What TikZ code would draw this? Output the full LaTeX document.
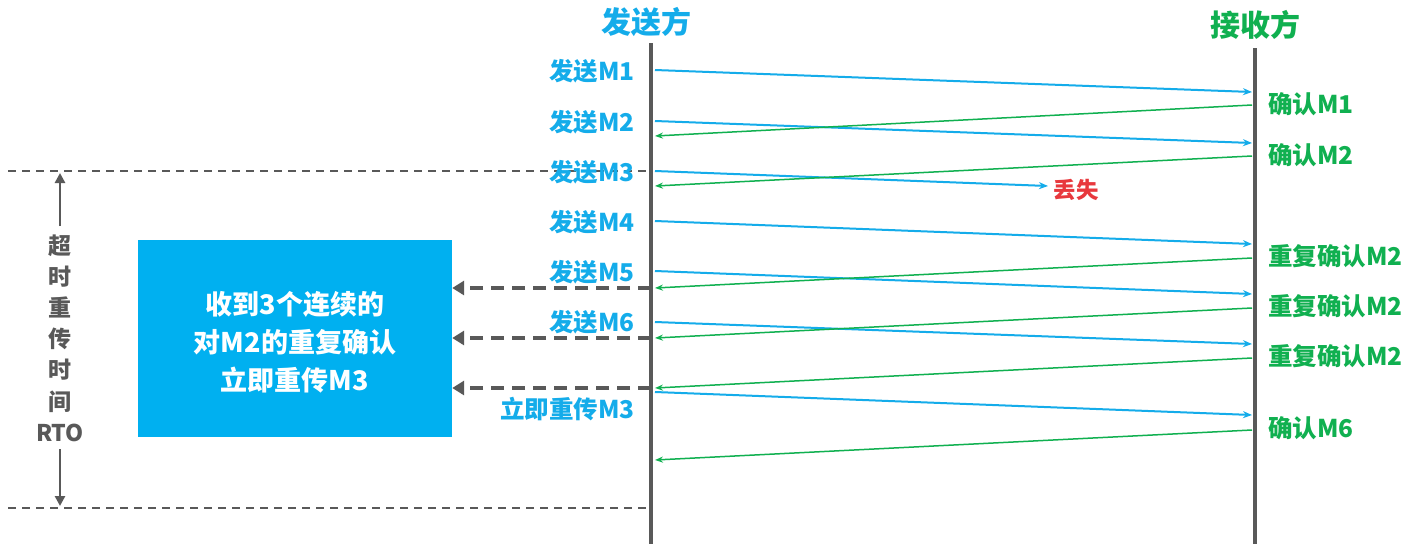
\documentclass[tikz,border=0pt]{standalone}
\usepackage{fontspec}
\setmainfont{Noto Sans CJK SC}
\usetikzlibrary{arrows.meta}
\definecolor{cblue}{RGB}{20,172,234}
\definecolor{cbox}{RGB}{0,176,240}
\definecolor{cgreen}{RGB}{16,176,80}
\definecolor{cred}{RGB}{232,56,61}
\definecolor{cgray}{RGB}{89,89,89}
\tikzset{
  lifeline/.style={draw=cgray,line width=4pt},
  msg/.style={draw=cblue,line width=2pt,-{Stealth[length=9pt,width=7pt]}},
  ack/.style={draw=cgreen,line width=1.5pt,-{Stealth[length=8pt,width=6pt]}},
  slabel/.style={text=cblue,font=\fontsize{24.5}{28}\selectfont\bfseries,anchor=east,inner sep=0pt},
  rlabel/.style={text=cgreen,font=\fontsize{24.5}{28}\selectfont\bfseries,anchor=west,inner sep=0pt},
  title/.style={font=\fontsize{30}{34}\selectfont\bfseries,inner sep=0pt},
  dasharrow/.style={draw=cgray,line width=3.5pt,dash pattern=on 13pt off 8pt,-{Triangle[length=12pt,width=14pt]}},
  rtoline/.style={draw=cgray,line width=1.3pt,dash pattern=on 8pt off 6pt},
  rtoarrow/.style={draw=cgray,line width=2.5pt,-{Triangle[length=10pt,width=10pt]}},
}
\begin{document}
\begin{tikzpicture}[x=1pt,y=-1pt]
\useasboundingbox[fill=white] (0,0) rectangle (1422,544);
% RTO dashed boundaries
\coordinate (rtoTL) at (8,171);
\coordinate (rtoTR) at (648,171);
\coordinate (rtoBL) at (8,508);
\coordinate (rtoBR) at (648,508);
\draw[rtoline] (rtoTL) -- (rtoTR);
\draw[rtoline] (rtoBL) -- (rtoBR);
% lifelines
\coordinate (sTop) at (651,43);
\coordinate (sBot) at (651,544);
\coordinate (rTop) at (1255,48);
\coordinate (rBot) at (1255,544);
\draw[lifeline] (sTop) -- (sBot);
\draw[lifeline] (rTop) -- (rBot);
% titles
\node[title,text=cblue] (tS) at (646,22) {发送方};
\node[title,text=cgreen] (tR) at (1255,25) {接收方};
% sender side coordinates
\foreach \n/\y in {s1/70,s2/121,s3/171,s4/221,s5/271,s6/322,s7/392,
                   a1/136,a2/186,a3/288,a4/338,a5/388,a6/460}
  \coordinate (\n) at (655,\y);
\foreach \n/\y in {r1/92,r2/143,r4/244,r5/294,r6/344,r7/415,
                   b1/105,b2/156,b3/258,b4/308,b5/358,b6/430}
  \coordinate (\n) at (1252,\y);
\coordinate (lost) at (1048,186);
% messages
\draw[msg] (s1) -- (r1);
\draw[msg] (s2) -- (r2);
\draw[msg] (s3) -- (lost);
\draw[msg] (s4) -- (r4);
\draw[msg] (s5) -- (r5);
\draw[msg] (s6) -- (r6);
\draw[msg] (s7) -- (r7);
% acks
\draw[ack] (b1) -- (a1);
\draw[ack] (b2) -- (a2);
\draw[ack] (b3) -- (a3);
\draw[ack] (b4) -- (a4);
\draw[ack] (b5) -- (a5);
\draw[ack] (b6) -- (a6);
% sender labels
\node[slabel] (l1) at (635,71) {发送M1};
\node[slabel] (l2) at (635,122) {发送M2};
\node[slabel] (l3) at (635,172) {发送M3};
\node[slabel] (l4) at (635,222) {发送M4};
\node[slabel] (l5) at (635,272) {发送M5};
\node[slabel] (l6) at (635,322) {发送M6};
\node[slabel] (l7) at (635,409) {立即重传M3};
% receiver labels
\node[rlabel] (k1) at (1268,104) {确认M1};
\node[rlabel] (k2) at (1268,155) {确认M2};
\node[rlabel] (k3) at (1268,256) {重复确认M2};
\node[rlabel] (k4) at (1268,306) {重复确认M2};
\node[rlabel] (k5) at (1268,356) {重复确认M2};
\node[rlabel] (k6) at (1268,428) {确认M6};
% lost
\node[text=cred,font=\fontsize{22.5}{26}\selectfont\bfseries,inner sep=0pt] (lostl) at (1076,190) {丢失};
% blue box
\node[fill=cbox,minimum width=314pt,minimum height=197pt,inner sep=0pt] (box) at (295,338.5) {};
\node[text=white,align=center,inner sep=0pt,font=\fontsize{27}{38}\selectfont\bfseries] (boxtext) at ([yshift=-4pt]box.center)
  {收到3个连续的\\对M2的重复确认\\立即重传M3};
% dashed arrows to box
\coordinate (d1) at (651,288);
\coordinate (d2) at (651,338);
\coordinate (d3) at (651,388);
\draw[dasharrow] (d1) -- (box.east |- d1);
\draw[dasharrow] (d2) -- (box.east |- d2);
\draw[dasharrow] (d3) -- (box.east |- d3);
% RTO label and arrows
\node[text=cgray,align=center,inner sep=0pt,font=\fontsize{23}{31.2}\selectfont\bfseries] (rto) at (60,338)
  {超\\时\\重\\传\\时\\间\\RTO};
\coordinate (upStart) at (60,226);
\coordinate (upEnd) at (60,173);
\coordinate (dnStart) at (60,449);
\coordinate (dnEnd) at (60,506);
\draw[rtoarrow] (upStart) -- (upEnd);
\draw[rtoarrow] (dnStart) -- (dnEnd);
\end{tikzpicture}
\end{document}
